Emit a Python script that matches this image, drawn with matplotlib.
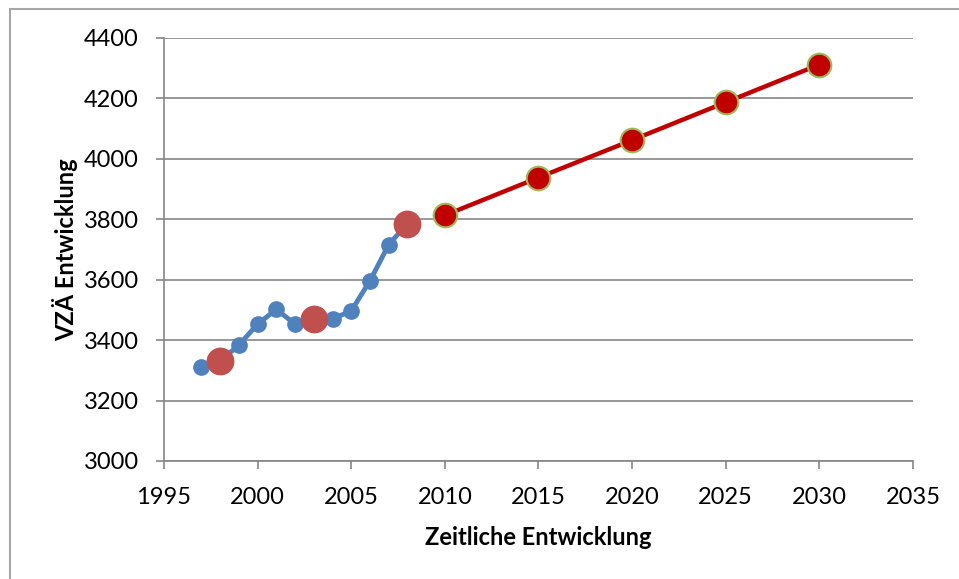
import matplotlib.pyplot as plt
from matplotlib.patches import Rectangle

# historical series (blue) and highlighted years
hist_years = [1997, 1998, 1999, 2000, 2001, 2002, 2003, 2004, 2005, 2006, 2007, 2008]
hist_vza = [3311, 3330, 3384, 3453, 3502, 3453, 3470, 3470, 3497, 3596, 3716, 3786]
mark_years = [1998, 2003, 2008]
mark_vza = [3330, 3470, 3786]

# forecast series (red)
proj_years = [2010, 2015, 2020, 2025, 2030]
proj_vza = [3813, 3938, 4062, 4187, 4312]

plt.rcParams['font.family'] = ['Lato', 'DejaVu Sans']
grey = '#868686'

fig = plt.figure(figsize=(9.59, 5.79), dpi=100)
ax = fig.add_axes([0.171, 0.2038, 0.781, 0.7306])

ax.plot(hist_years, hist_vza, color='#4F81BD', lw=3.5, marker='o', ms=11,
        zorder=3)
ax.plot(mark_years, mark_vza, ls='none', marker='o', ms=19,
        color='#C0504D', zorder=4)
ax.plot(proj_years, proj_vza, color='#C00000', lw=3.2, marker='o', ms=17,
        mfc='#C00000', mec='#9BBB59', mew=1.5, zorder=4)

ax.set_xlim(1995, 2035)
ax.set_ylim(3000, 4400)
ax.set_xticks(range(1995, 2036, 5))
ax.set_yticks(range(3000, 4401, 200))
ax.grid(axis='y', color=grey, lw=1.2)
ax.set_axisbelow(True)

for s in ['top', 'right']:
    ax.spines[s].set_visible(False)
for s in ['left', 'bottom']:
    ax.spines[s].set_color(grey)
    ax.spines[s].set_linewidth(1.2)
ax.tick_params(colors=grey, labelcolor='black', labelsize=17,
               length=6, width=1.2)
ax.tick_params(axis='x', pad=13)
ax.tick_params(axis='y', pad=12)

ax.set_xlabel('Zeitliche Entwicklung', fontsize=17, fontweight='bold',
              labelpad=13)
ax.set_ylabel('VZÄ Entwicklung', fontsize=17, fontweight='bold',
              labelpad=4)

# outer chart frame
fig.patches.append(Rectangle((10 / 959, -0.1), 1.2, 1.1 - 9 / 579,
                             transform=fig.transFigure, fill=False,
                             edgecolor='#A6A6A6', lw=1.5))

fig.savefig('out.png', dpi=100)
